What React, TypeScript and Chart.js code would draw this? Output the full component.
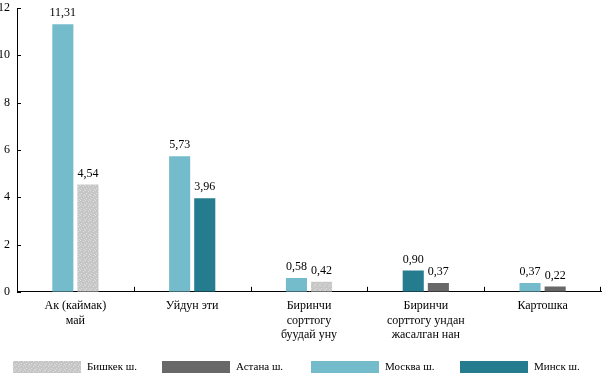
import React, { useEffect, useRef } from "react";
import { Chart, registerables } from "chart.js";

Chart.register(...registerables);

const categories: (string | string[])[] = [
  ["Ак (каймак)", "май"],
  "Уйдун эти",
  ["Биринчи", "сорттогу", "буудай уну"],
  ["Биринчи", "сорттогу ундан", "жасалган нан"],
  "Картошка",
];
const seriesNames = ["Бишкек ш.", "Астана ш.", "Москва ш.", "Минск ш."];
const bishkek: (number | null)[] = [4.54, null, 0.42, null, null];
const astana: (number | null)[] = [null, null, null, 0.37, 0.22];
const moscow: (number | null)[] = [11.31, 5.73, 0.58, null, 0.37];
const minsk: (number | null)[] = [null, 3.96, null, 0.9, null];
const yMin = 0;
const yMax = 12;
const yStep = 2;

const FONT = "'Liberation Serif', 'Times New Roman', serif";

function makeDotPattern(base: string, dot: string): CanvasPattern | string {
  const c = document.createElement("canvas");
  c.width = 5;
  c.height = 5;
  const g = c.getContext("2d");
  if (!g) return base;
  g.fillStyle = base;
  g.fillRect(0, 0, 5, 5);
  g.fillStyle = dot;
  const pts = [
    [0, 0],
    [3, 1],
    [1, 3],
    [4, 4],
  ];
  pts.forEach(([px, py]) => g.fillRect(px, py, 1, 1));
  const p = g.createPattern(c, "repeat");
  return p || base;
}

const valueLabels = {
  id: "valueLabels",
  afterDatasetsDraw(chart: any) {
    const ctx = chart.ctx;
    ctx.save();
    ctx.font = `12px ${FONT}`;
    ctx.fillStyle = "#000";
    ctx.textAlign = "center";
    ctx.textBaseline = "bottom";
    chart.data.datasets.forEach((ds: any, i: number) => {
      const meta = chart.getDatasetMeta(i);
      meta.data.forEach((el: any, j: number) => {
        const v = ds.data[j];
        if (v === null || v === undefined) return;
        ctx.fillText(v.toFixed(2).replace(".", ","), el.x, el.y - 5);
      });
    });
    ctx.restore();
  },
};

const innerTicks = {
  id: "innerTicks",
  afterDraw(chart: any) {
    const ctx = chart.ctx;
    const xs = chart.scales.x;
    const ys = chart.scales.y;
    ctx.save();
    ctx.strokeStyle = "#000";
    ctx.lineWidth = 1;
    ctx.beginPath();
    ys.ticks.forEach((_t: any, i: number) => {
      const py = Math.round(ys.getPixelForTick(i)) + 0.5;
      ctx.moveTo(xs.left, py);
      ctx.lineTo(xs.left + 4, py);
    });
    const n = chart.data.labels.length;
    for (let i = 1; i <= n; i++) {
      const px =
        i === n
          ? xs.right - 0.5
          : Math.round((xs.getPixelForValue(i - 1) + xs.getPixelForValue(i)) / 2) + 0.5;
      ctx.moveTo(px, ys.bottom);
      ctx.lineTo(px, ys.bottom - 5);
    }
    ctx.stroke();
    ctx.restore();
  },
};

const gridLegend = {
  id: "gridLegend",
  afterDraw(chart: any) {
    const ctx = chart.ctx;
    ctx.save();
    ctx.font = `11px ${FONT}`;
    ctx.textAlign = "left";
    ctx.textBaseline = "middle";
    const colW = 149;
    const top = 361;
    chart.data.datasets.forEach((ds: any, i: number) => {
      const x0 = 13 + i * colW;
      ctx.fillStyle = ds.backgroundColor;
      ctx.fillRect(x0, top, 68, 12);
      ctx.fillStyle = "#000";
      ctx.fillText(ds.label, x0 + 74, top + 6);
    });
    ctx.restore();
  },
};

export default function App() {
  const ref = useRef<HTMLCanvasElement | null>(null);

  useEffect(() => {
    if (!ref.current) return;
    const bishkekFill = makeDotPattern("#c6c6c6", "#dedede");
    const astanaFill = "#686868";
    const moscowFill = "#74bccb";
    const minskFill = "#247c8e";
    const chart = new Chart(ref.current, {
      type: "bar",
      data: {
        labels: categories,
        datasets: [
          { label: seriesNames[0], data: bishkek, backgroundColor: bishkekFill as any, order: 2 },
          { label: seriesNames[1], data: astana, backgroundColor: astanaFill, order: 3 },
          { label: seriesNames[2], data: moscow, backgroundColor: moscowFill, order: 0 },
          { label: seriesNames[3], data: minsk, backgroundColor: minskFill, order: 1 },
        ],
      },
      options: {
        animation: false,
        responsive: true,
        maintainAspectRatio: false,
        skipNull: true,
        datasets: {
          bar: {
            categoryPercentage: 0.43,
            barPercentage: 0.84,
            borderWidth: 0,
          },
        },
        layout: { padding: { top: 8, right: 3, left: 0, bottom: 30 } },
        plugins: {
          legend: { display: false },
          tooltip: { enabled: false },
        },
        scales: {
          x: {
            grid: { display: false, drawTicks: false },
            border: { display: true, color: "#000", width: 1 },
            ticks: {
              color: "#000",
              font: { family: FONT, size: 12 },
              padding: 7,
              maxRotation: 0,
              autoSkip: false,
            },
          },
          y: {
            min: yMin,
            max: yMax,
            grid: { display: false, drawTicks: false },
            border: { display: true, color: "#000", width: 1 },
            afterFit(scale: any) {
              scale.width = 17;
              scale.paddingTop = 0;
              scale.paddingBottom = 0;
            },
            ticks: {
              stepSize: yStep,
              color: "#000",
              font: { family: FONT, size: 12 },
              padding: 7,
            },
          },
        },
      } as any,
      plugins: [valueLabels, innerTicks, gridLegend],
    });
    return () => chart.destroy();
  }, []);

  return (
    <div style={{ position: "fixed", left: 0, top: 0, width: 604, height: 379, background: "#fff" }}>
      <canvas ref={ref} />
    </div>
  );
}
